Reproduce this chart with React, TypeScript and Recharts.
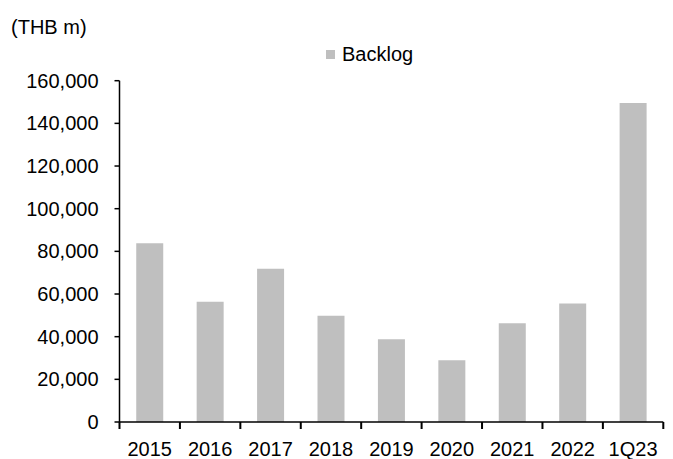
import { Bar, BarChart, XAxis, YAxis } from "recharts";

const periods = ["2015", "2016", "2017", "2018", "2019", "2020", "2021", "2022", "1Q23"];
const backlog = [83800, 56400, 71900, 49800, 38800, 28900, 46300, 55500, 149500];
const yTicks = [0, 20000, 40000, 60000, 80000, 100000, 120000, 140000, 160000];

const data = periods.map((period, i) => ({ period, backlog: backlog[i] }));

const FONT = "'Liberation Sans', Arial, sans-serif";
const BAR_GREY = "#BFBFBF";

const CHART_W = 673;
const CHART_H = 459;
const MARGIN = { top: 80.7, right: 9.7, left: 0, bottom: 0 };
const Y_AXIS_W = 119.5;
const X_AXIS_H = 37;
const HALF_BAND = (CHART_W - Y_AXIS_W - MARGIN.right) / periods.length / 2;

// category ticks sit between the bars, not under them
function PeriodTick(props: any) {
  const { x, payload, index } = props;
  const axisY = CHART_H - X_AXIS_H;
  const last = index === periods.length - 1;
  const left = Number(x) - HALF_BAND;
  const right = Number(x) + HALF_BAND;
  return (
    <g>
      <rect x={left - 1} y={axisY} width={2} height={7} fill="#000" />
      {last && <rect x={right - 1} y={axisY} width={2} height={7} fill="#000" />}
      <text x={x} y={axisY + 20} dy="0.71em" textAnchor="middle" fontSize={20} fill="#000" fontFamily={FONT}>
        {payload.value}
      </text>
    </g>
  );
}

export default function App() {
  return (
    <div style={{ position: "absolute", left: 0, top: 0, width: CHART_W, height: CHART_H, background: "#fff", fontFamily: FONT }}>
      <div style={{ position: "absolute", left: 11, top: 16.7, fontSize: 20, lineHeight: "20px", color: "#000" }}>
        (THB m)
      </div>
      <div style={{ position: "absolute", left: 326, top: 44, fontSize: 20, lineHeight: "20px", color: "#000", display: "flex", alignItems: "center" }}>
        <span style={{ display: "inline-block", width: 9, height: 9, background: BAR_GREY, marginRight: 7, marginTop: 1 }} />
        <span>Backlog</span>
      </div>
      <BarChart width={CHART_W} height={CHART_H} data={data} margin={MARGIN} barCategoryGap="27.7%">
        <XAxis
          dataKey="period"
          height={X_AXIS_H}
          axisLine={{ stroke: "#000", strokeWidth: 1.5 }}
          tickLine={false}
          tick={(p: any) => <PeriodTick {...p} />}
          interval={0}
        />
        <YAxis
          width={Y_AXIS_W}
          domain={[0, 160000]}
          ticks={yTicks}
          interval={0}
          axisLine={{ stroke: "#000", strokeWidth: 1.5 }}
          tickLine={{ stroke: "#000", strokeWidth: 1.5 }}
          tickSize={5}
          tickMargin={16}
          tick={{ fontSize: 20, fill: "#000", fontFamily: FONT }}
          tickFormatter={(v) => Number(v).toLocaleString("en-US")}
        />
        <Bar dataKey="backlog" fill={BAR_GREY} isAnimationActive={false} />
      </BarChart>
    </div>
  );
}
